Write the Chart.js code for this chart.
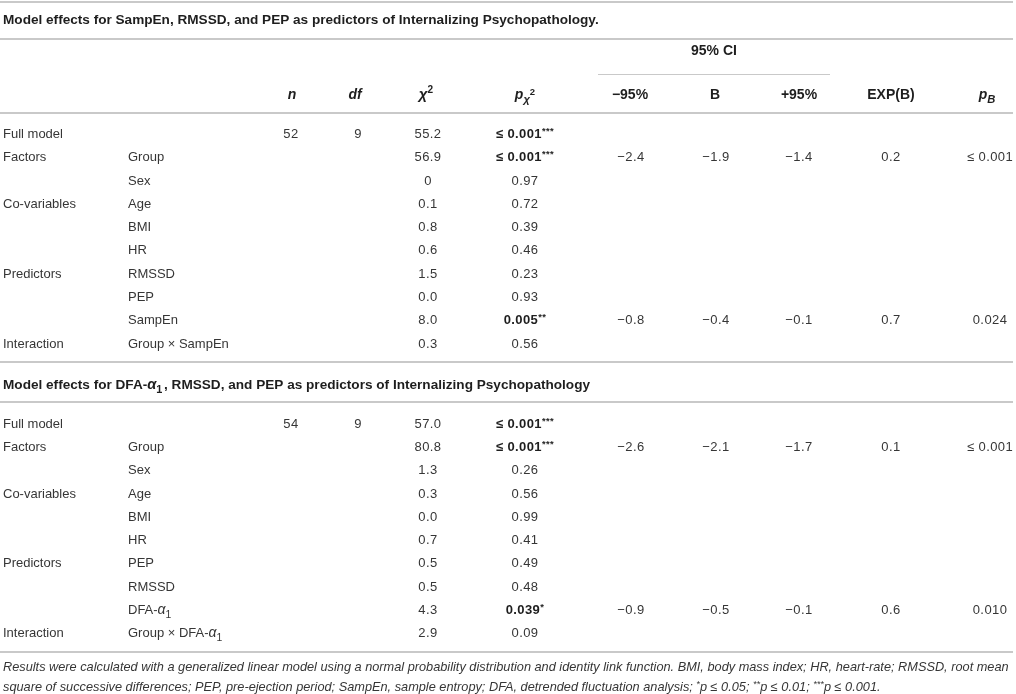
<!DOCTYPE html>
<html>
<head>
<meta charset="utf-8">
<title>Model effects for SampEn / DFA-α1, RMSSD and PEP</title>
<script src="https://cdn.jsdelivr.net/npm/chart.js@4.4.1/dist/chart.umd.min.js"></script>
<style>
    html, body { margin: 0; padding: 0; background: #ffffff; }
    #table-chart { display: block; }
</style>
</head>
<body>
<canvas id="table-chart" width="1016" height="694"></canvas>
<script>
// ---- table content ----
// markup: /x/ italic, _c subscript, ^c superscript, * is always raised
const sectionTitles = [
    'Model effects for SampEn, RMSSD, and PEP as predictors of Internalizing Psychopathology.',
    'Model effects for DFA-α_1, RMSSD, and PEP as predictors of Internalizing Psychopathology'
];
const columnHeaders = ['/n/', '/df/', 'χ^2', '/p/_χ^2', '−95%', 'B', '+95%', 'EXP(B)', '/p/_/B/'];
const ciHeader = '95% CI';

const termGroups = ['Full model', 'Factors', '', 'Co-variables', '', '', 'Predictors', '', '', 'Interaction'];

const sampEnTerms = ['', 'Group', 'Sex', 'Age', 'BMI', 'HR', 'RMSSD', 'PEP', 'SampEn', 'Group × SampEn'];
const sampEnN = ['52', '', '', '', '', '', '', '', '', ''];
const sampEnDf = ['9', '', '', '', '', '', '', '', '', ''];
const sampEnChi2 = ['55.2', '56.9', '0', '0.1', '0.8', '0.6', '1.5', '0.0', '8.0', '0.3'];
const sampEnPChi2 = ['≤ 0.001***', '≤ 0.001***', '0.97', '0.72', '0.39', '0.46', '0.23', '0.93', '0.005**', '0.56'];
const sampEnLower = ['', '−2.4', '', '', '', '', '', '', '−0.8', ''];
const sampEnB = ['', '−1.9', '', '', '', '', '', '', '−0.4', ''];
const sampEnUpper = ['', '−1.4', '', '', '', '', '', '', '−0.1', ''];
const sampEnExpB = ['', '0.2', '', '', '', '', '', '', '0.7', ''];
const sampEnPB = ['', '≤ 0.001', '', '', '', '', '', '', '0.024', ''];

const dfaTerms = ['', 'Group', 'Sex', 'Age', 'BMI', 'HR', 'PEP', 'RMSSD', 'DFA-α_1', 'Group × DFA-α_1'];
const dfaN = ['54', '', '', '', '', '', '', '', '', ''];
const dfaDf = ['9', '', '', '', '', '', '', '', '', ''];
const dfaChi2 = ['57.0', '80.8', '1.3', '0.3', '0.0', '0.7', '0.5', '0.5', '4.3', '2.9'];
const dfaPChi2 = ['≤ 0.001***', '≤ 0.001***', '0.26', '0.56', '0.99', '0.41', '0.49', '0.48', '0.039*', '0.09'];
const dfaLower = ['', '−2.6', '', '', '', '', '', '', '−0.9', ''];
const dfaB = ['', '−2.1', '', '', '', '', '', '', '−0.5', ''];
const dfaUpper = ['', '−1.7', '', '', '', '', '', '', '−0.1', ''];
const dfaExpB = ['', '0.1', '', '', '', '', '', '', '0.6', ''];
const dfaPB = ['', '≤ 0.001', '', '', '', '', '', '', '0.010', ''];

const footnotes = [
    'Results were calculated with a generalized linear model using a normal probability distribution and identity link function. BMI, body mass index; HR, heart-rate; RMSSD, root mean',
    'square of successive differences; PEP, pre-ejection period; SampEn, sample entropy; DFA, detrended fluctuation analysis; *p ≤ 0.05; **p ≤ 0.01; ***p ≤ 0.001.'
];

// ---- layout (scale units = page pixels) ----
const FONT = '"Liberation Sans", Arial, Helvetica, sans-serif';
const BODY_SIZE = 13;
const TITLE_SIZE = 13.6;
const HEADER_SIZE = 14;
const NOTE_SIZE = 12.75;
const NUMBER_SPACING = '0.4px';
const TEXT_COLOR = '#363636';
const TITLE_COLOR = '#1e1e1e';
const RULE_COLOR = '#c9c9c9';
const GREEK = 'αχ';

const termX = [3, 128];
const valueX = [291, 358, 428, 525, 631, 716, 799, 891, 990];
const headerX = [292, 355, 426, 525, 630, 715, 799, 891, 987];
const ciHeaderX = 714;
const ciRule = {from: 598, to: 830, y: 73.5};
const rowHeight = 23.3;
const bodyTop = [133.3, 423];
const titleY = [19.5, 384];
const ciHeaderY = 50;
const headerY = 94;
const noteY = [666, 686];
const ruleY = [2, 39, 113, 362, 402, 652];
const ruleSpan = [0, 1013];

document.addEventListener('DOMContentLoaded', () => {
    const cells = [];

    sectionTitles.forEach((text, i) => {
        cells.push({x: termX[0], y: titleY[i], text, align: 'left', bold: true, size: TITLE_SIZE, color: TITLE_COLOR});
    });

    cells.push({x: ciHeaderX, y: ciHeaderY, text: ciHeader, align: 'center', bold: true, size: HEADER_SIZE, color: TITLE_COLOR});
    columnHeaders.forEach((text, i) => {
        cells.push({x: headerX[i], y: headerY, text, align: 'center', bold: true, size: HEADER_SIZE, color: TITLE_COLOR});
    });

    const sections = [
        {terms: sampEnTerms, columns: [sampEnN, sampEnDf, sampEnChi2, sampEnPChi2, sampEnLower, sampEnB, sampEnUpper, sampEnExpB, sampEnPB]},
        {terms: dfaTerms, columns: [dfaN, dfaDf, dfaChi2, dfaPChi2, dfaLower, dfaB, dfaUpper, dfaExpB, dfaPB]}
    ];

    sections.forEach((section, s) => {
        for (let r = 0; r < termGroups.length; r++) {
            const y = bodyTop[s] + r * rowHeight;
            if (termGroups[r]) {
                cells.push({x: termX[0], y, text: termGroups[r], align: 'left', size: BODY_SIZE});
            }
            if (section.terms[r]) {
                cells.push({x: termX[1], y, text: section.terms[r], align: 'left', size: BODY_SIZE});
            }
            section.columns.forEach((column, c) => {
                const text = column[r];
                if (!text) {
                    return;
                }
                // significant chi-square p values are set in bold
                const bold = c === 3 && text.includes('*');
                cells.push({
                    x: valueX[c], y, text, align: 'center', bold, size: BODY_SIZE,
                    spacing: NUMBER_SPACING, color: bold ? TITLE_COLOR : TEXT_COLOR
                });
            });
        }
    });

    footnotes.forEach((text, i) => {
        cells.push({x: termX[0], y: noteY[i], text, align: 'left', italic: true, size: NOTE_SIZE});
    });

    new Chart(document.getElementById('table-chart'), {
        type: 'scatter',
        data: {
            datasets: [{
                label: 'cells',
                data: cells,
                pointRadius: 0,
                pointHoverRadius: 0
            }]
        },
        options: {
            responsive: false,
            animation: false,
            events: [],
            layout: {padding: 0},
            scales: {
                x: {type: 'linear', min: 0, max: 1016, display: false},
                y: {type: 'linear', min: 0, max: 694, reverse: true, display: false}
            },
            plugins: {
                legend: {display: false},
                tooltip: {enabled: false}
            }
        },
        plugins: [tableRules, cellText]
    });
});

const tableRules = {
    id: 'tableRules',
    beforeDatasetsDraw(chart) {
        const {ctx, scales: {x, y}} = chart;
        ctx.save();
        ctx.strokeStyle = RULE_COLOR;
        ctx.lineWidth = 2;
        ruleY.forEach(value => {
            const py = y.getPixelForValue(value);
            ctx.beginPath();
            ctx.moveTo(x.getPixelForValue(ruleSpan[0]), py);
            ctx.lineTo(x.getPixelForValue(ruleSpan[1]), py);
            ctx.stroke();
        });
        ctx.lineWidth = 1;
        const cy = Math.round(y.getPixelForValue(ciRule.y)) + 0.5;
        ctx.beginPath();
        ctx.moveTo(x.getPixelForValue(ciRule.from), cy);
        ctx.lineTo(x.getPixelForValue(ciRule.to), cy);
        ctx.stroke();
        ctx.restore();
    }
};

const cellText = {
    id: 'cellText',
    afterDatasetsDraw(chart) {
        const {ctx} = chart;
        const dataset = chart.data.datasets[0];
        const meta = chart.getDatasetMeta(0);
        ctx.save();
        ctx.textBaseline = 'alphabetic';
        ctx.textAlign = 'left';
        meta.data.forEach((point, i) => {
            drawRichText(ctx, dataset.data[i], point.x, point.y);
        });
        ctx.restore();
    }
};

function parseRuns(text) {
    const runs = [];
    let italic = false;
    let buffer = '';
    const flush = () => {
        if (buffer) {
            runs.push({t: buffer, italic, level: 'base'});
            buffer = '';
        }
    };

    for (let i = 0; i < text.length; i++) {
        const c = text[i];
        if (c === '/') {
            flush();
            italic = !italic;
            continue;
        }
        if (c === '_' || c === '^') {
            flush();
            let ch = text[++i];
            let it = italic;
            if (ch === '/') {
                ch = text[++i];
                it = true;
                i++;
            }
            const prev = runs[runs.length - 1];
            const level = c === '_' ? 'sub' : (prev && prev.level === 'sub' ? 'subsup' : 'sup');
            runs.push({t: ch, italic: it || GREEK.includes(ch), level});
            continue;
        }
        if (c === '*') {
            flush();
            const prev = runs[runs.length - 1];
            if (prev && prev.level === 'star') {
                prev.t += '*';
            } else {
                runs.push({t: '*', italic, level: 'star'});
            }
            continue;
        }
        if (GREEK.includes(c)) {
            flush();
            runs.push({t: c, italic: true, level: 'greek'});
            continue;
        }
        buffer += c;
    }
    flush();
    return runs;
}

// scale / vertical shift (in em) / extra advance before following text (in em)
const LEVELS = {
    base: {scale: 1, dy: 0, gap: 0},
    greek: {scale: 1.08, dy: 0, gap: 0.05},
    sub: {scale: 0.8, dy: 0.3, gap: 0.12},
    sup: {scale: 0.72, dy: -0.42, gap: 0},
    subsup: {scale: 0.68, dy: -0.32, gap: 0},
    star: {scale: 0.72, dy: -0.32, gap: 0}
};

function fontFor(run, cell) {
    const size = cell.size * LEVELS[run.level].scale;
    const italic = run.italic || cell.italic;
    return `${italic ? 'italic ' : ''}${cell.bold ? 'bold ' : ''}${size}px ${FONT}`;
}

function drawRichText(ctx, cell, px, py) {
    const runs = parseRuns(cell.text);
    ctx.letterSpacing = cell.spacing || '0px';
    let width = 0;
    runs.forEach((run, i) => {
        ctx.font = fontFor(run, cell);
        const next = runs[i + 1];
        // a gap only before normal text, not before a stacked superscript
        const gap = next && next.level === 'base' ? LEVELS[run.level].gap * cell.size : 0;
        run.w = ctx.measureText(run.t).width + gap;
        width += run.w;
    });

    let x = cell.align === 'center' ? px - width / 2 : px;
    const baseline = py + cell.size * 0.36;
    ctx.fillStyle = cell.color || TEXT_COLOR;
    runs.forEach(run => {
        ctx.font = fontFor(run, cell);
        ctx.fillText(run.t, x, baseline + LEVELS[run.level].dy * cell.size);
        x += run.w;
    });
    ctx.letterSpacing = '0px';
}
</script>
</body>
</html>
